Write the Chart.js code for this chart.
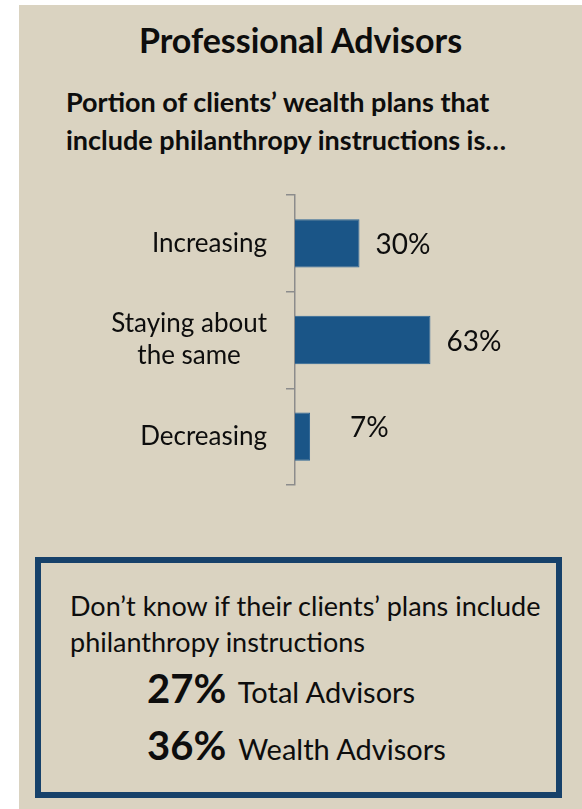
<!DOCTYPE html>
<html>
<head>
<meta charset="utf-8">
<script src="https://cdn.jsdelivr.net/npm/chart.js@4/dist/chart.umd.min.js"></script>
<style>
  body { margin: 0; background: #fff; font-family: Lato, 'Open Sans', sans-serif; color: #0d0d0d; }
  .abs { position: absolute; white-space: nowrap; }
  #panel { left: 19px; top: 5px; width: 563px; height: 804px; background: #DAD3C1; }
  #title { left: 19px; top: 20px; width: 563px; text-align: center; font-weight: bold; font-size: 34px; line-height: 40px; }
  #subtitle { left: 66px; top: 83px; font-weight: bold; font-size: 27px; line-height: 38px; }
  #box { left: 35px; top: 557px; width: 527px; height: 241px; box-sizing: border-box; border: 6px solid #16416A; }
  #note { left: 70px; top: 588px; font-size: 27px; line-height: 36px; }
  .stat { left: 147px; font-size: 29px; line-height: 52px; }
  .stat b { font-size: 40px; margin-right: 5px; }
  #wrap { position: absolute; left: 0; top: 0; width: 582px; height: 809px; }
</style>
</head>
<body>
<div class="abs" id="panel"></div>
<div class="abs" id="title">Professional Advisors</div>
<div class="abs" id="subtitle">Portion of clients’ wealth plans that<br>include philanthropy instructions is…</div>
<div class="abs" id="box"></div>
<div class="abs" id="note">Don’t know if their clients’ plans include<br>philanthropy instructions</div>
<div class="abs stat" style="top:662px"><b>27%</b> Total Advisors</div>
<div class="abs stat" style="top:719px"><b>36%</b> Wealth Advisors</div>
<div id="wrap"><canvas id="myChart"></canvas></div>

<script>
const categories = ['Increasing', ['Staying about', 'the same'], 'Decreasing'];
const shares = [30, 63, 7];

// category names and percentages are drawn here so the two-line label stays centred
const barLabels = {
  id: 'barLabels',
  afterDatasetsDraw(chart) {
    const ctx = chart.ctx;
    const yScale = chart.scales.y;
    const meta = chart.getDatasetMeta(0);
    ctx.save();
    ctx.fillStyle = '#0d0d0d';
    ctx.textBaseline = 'middle';

    ctx.font = '26px Lato';
    ctx.textAlign = 'center';
    const right = chart.chartArea.left - 28;
    categories.forEach((cat, i) => {
      const lines = Array.isArray(cat) ? cat : [cat];
      const w = Math.max(...lines.map(l => ctx.measureText(l).width));
      const cy = yScale.getPixelForValue(i);
      lines.forEach((l, j) => {
        ctx.fillText(l, right - w / 2, cy + (j - (lines.length - 1) / 2) * 32);
      });
    });

    ctx.font = '28px Lato';
    ctx.textAlign = 'left';
    meta.data.forEach((bar, i) => {
      // short bars: label pushed out a bit, like the original
      const x = Math.max(bar.x + 16, chart.chartArea.left + 55);
      const dy = bar.x + 16 < chart.chartArea.left + 55 ? -9 : 2;
      ctx.fillText(shares[i] + '%', x, bar.y + dy);
    });
    ctx.restore();
  }
};

const ctx = document.getElementById('myChart').getContext('2d');
const myChart = new Chart(ctx, {
  type: 'bar',
  data: {
    labels: categories,
    datasets: [{
      data: shares,
      backgroundColor: '#1A5587',
      borderColor: '#2D6595',
      borderWidth: 1,
      barPercentage: 0.5,
      categoryPercentage: 1.0,
    }]
  },
  options: {
    indexAxis: 'y',
    responsive: true,
    maintainAspectRatio: false,
    animation: false,
    layout: { padding: { left: 0, top: 195, right: 72, bottom: 324 } },
    plugins: {
      legend: { display: false },
      tooltip: { enabled: false },
    },
    scales: {
      x: { display: false, min: 0, max: 100 },
      y: {
        grid: { drawOnChartArea: false, drawTicks: true, tickLength: 9, color: '#8C8C8C', lineWidth: 1.5 },
        border: { color: '#8C8C8C', width: 1.5 },
        ticks: { display: false },
        afterFit(scale) { scale.width = 295; },
      }
    }
  },
  plugins: [barLabels],
});
</script>
</body>
</html>
